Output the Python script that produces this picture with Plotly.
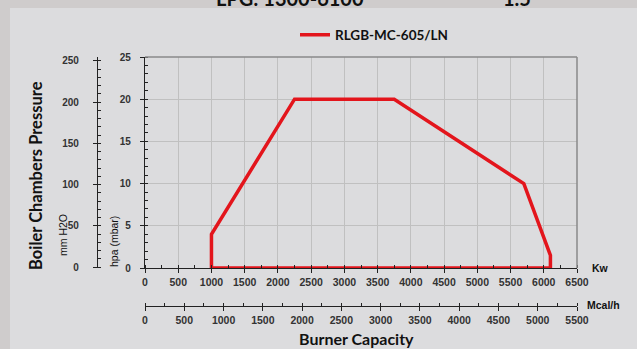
import plotly.graph_objects as go

# Working envelope of the burner: output (kW) vs. combustion chamber pressure (hPa)
kw = [1000, 1000, 2250, 3750, 5700, 6100, 6100, 1000]
hpa = [0, 4, 20, 20, 10, 1.5, 0, 0]
series_name = "RLGB-MC-605/LN"

W, H = 637, 349
PX0, PX1 = 145, 577      # plot area, horizontal pixels
PY0, PY1 = 57, 268       # plot area, vertical pixels (top, bottom)

def px(x):
    return x / W

def py(y):
    return 1 - y / H

panel = "#dcdcde"
frame = "#cfcccc"
xtick_font = dict(family="Liberation Sans", size=10.5, color="#333333", weight="bold")
ytick_font = dict(family="Liberation Sans", size=10, color="#333333", weight="bold")
title_font = "Lato"

fig = go.Figure()
fig.add_trace(go.Scatter(
    x=kw, y=hpa, mode="lines", name=series_name,
    line=dict(color="#e3151c", width=3.5),
    xaxis="x", yaxis="y",
))

axis_line = dict(showline=True, linecolor="#222222", linewidth=1.2, zeroline=False)

fig.update_layout(
    width=W, height=H,
    margin=dict(l=0, r=0, t=0, b=0, autoexpand=False),
    paper_bgcolor=panel, plot_bgcolor=panel,
    showlegend=True,
    legend=dict(
        x=px(295), y=py(35), xanchor="left", yanchor="middle",
        orientation="h", bgcolor="rgba(0,0,0,0)",
        font=dict(family=title_font, size=13.5, color="#111111", weight="bold"),
    ),
    xaxis=dict(
        domain=[px(PX0), px(PX1)], range=[0, 6500],
        tickmode="linear", tick0=0, dtick=500,
        ticks="outside", ticklen=4, tickcolor="#222222",
        minor=dict(dtick=250, ticks="inside", ticklen=3, tickcolor="#222222", showgrid=False),
        showgrid=True, gridcolor="#c0c0c0", gridwidth=1,
        tickfont=xtick_font, anchor="y", **axis_line,
    ),
    xaxis2=dict(
        domain=[px(PX0), px(PX1)], range=[0, 5500],
        tickmode="linear", tick0=0, dtick=500,
        ticks="outside", ticklen=4, tickcolor="#222222",
        minor=dict(dtick=250, ticks="inside", ticklen=3, tickcolor="#222222"),
        showgrid=False, tickfont=xtick_font,
        anchor="free", position=py(306), overlaying="x", side="bottom",
        **axis_line,
    ),
    yaxis=dict(
        domain=[py(PY1), py(PY0)], range=[0, 25],
        tickmode="linear", tick0=0, dtick=5,
        ticks="outside", ticklen=4, tickcolor="#222222",
        minor=dict(dtick=1, ticks="inside", ticklen=3, tickcolor="#222222", showgrid=False),
        showgrid=True, gridcolor="#c0c0c0", gridwidth=1,
        tickfont=ytick_font, ticklabelstandoff=7, anchor="x", **axis_line,
    ),
    yaxis2=dict(
        range=[-1.2, 254.8],
        tickmode="linear", tick0=0, dtick=50,
        ticks="outside", ticklen=4, tickcolor="#222222",
        minor=dict(dtick=10, ticks="inside", ticklen=3, tickcolor="#222222"),
        showgrid=False, tickfont=ytick_font, ticklabelstandoff=12,
        anchor="free", position=px(97), overlaying="y", side="left",
        **axis_line,
    ),
)

# Dummy trace so the Mcal/h and mm H2O axes are drawn
fig.add_trace(go.Scatter(x=[None], y=[None], xaxis="x2", yaxis="y2",
                         showlegend=False, hoverinfo="skip"))

# Page frame: top band and left strip
fig.add_shape(type="rect", xref="paper", yref="paper", x0=0, x1=1, y0=py(8), y1=1,
              fillcolor=frame, line_width=0, layer="below")
fig.add_shape(type="rect", xref="paper", yref="paper", x0=0, x1=px(10), y0=0, y1=1,
              fillcolor=frame, line_width=0, layer="below")

# Grey top and right border of the plotting area
for x0, y0, x1, y1 in [(0, 1, 1, 1), (1, 0, 1, 1)]:
    fig.add_shape(type="line", xref="x domain", yref="y domain",
                  x0=x0, y0=y0, x1=x1, y1=y1, line=dict(color="#8a8a8a", width=1.5))

def label(text, x, y, size, angle=0, family=title_font, weight="bold", xanchor="center"):
    fig.add_annotation(text=text, x=px(x), y=py(y), xref="paper", yref="paper",
                       showarrow=False, textangle=angle, xanchor=xanchor, yanchor="middle",
                       font=dict(family=family, size=size, color="#111111", weight=weight))

label("LPG: 1300-6100", 290, -2, 20)
label("1.5", 517, -2, 20)
label("Boiler Chambers Pressure", 36, 176, 16.5, angle=-90)
label("mm H2O", 63, 235, 10.5, angle=-90, family="Liberation Sans", weight="normal")
label("hpa (mbar)", 114, 242, 10.5, angle=-90, family="Liberation Sans", weight="normal")
label("Kw", 590, 268, 10.5, family="Liberation Sans", xanchor="left")
label("Mcal/h", 585, 305, 10.5, family="Liberation Sans", xanchor="left")
label("Burner Capacity", 356, 338, 16)

fig.write_html("out.html")
